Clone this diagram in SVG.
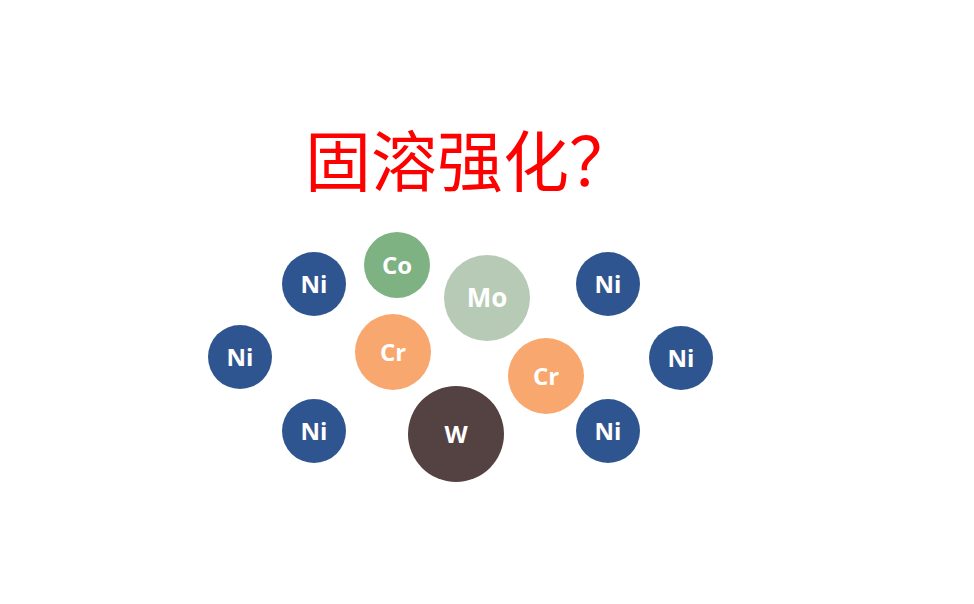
<svg xmlns="http://www.w3.org/2000/svg" width="974" height="604" viewBox="0 0 974 604">
<style>
.lbl{font-family:"Open Sans","Noto Sans","Liberation Sans",sans-serif;font-weight:bold;fill:#fff;text-anchor:middle;dominant-baseline:central;font-size:24px}
.ni{fill:#2F5590}
.cr{fill:#F8A86F}
</style>
<rect width="974" height="604" fill="#fff"/>
<text x="470" y="186" font-family="'Noto Sans CJK SC','Noto Sans',sans-serif" font-size="66" fill="#FF0000" text-anchor="middle">固溶强化？</text>
<g id="ni1"><circle class="ni" cx="314" cy="284" r="32"/><text class="lbl" x="314" y="283">Ni</text></g>
<g id="ni2"><circle class="ni" cx="240" cy="357" r="32"/><text class="lbl" x="240" y="356">Ni</text></g>
<g id="ni3"><circle class="ni" cx="314" cy="431" r="32"/><text class="lbl" x="314" y="430">Ni</text></g>
<g id="ni4"><circle class="ni" cx="608" cy="284" r="32"/><text class="lbl" x="608" y="283">Ni</text></g>
<g id="ni5"><circle class="ni" cx="681" cy="358" r="32"/><text class="lbl" x="681" y="357">Ni</text></g>
<g id="ni6"><circle class="ni" cx="608" cy="431" r="32"/><text class="lbl" x="608" y="430">Ni</text></g>
<g id="co"><circle fill="#7EB283" cx="397" cy="265" r="33"/><text class="lbl" x="397" y="264">Co</text></g>
<g id="mo"><circle fill="#B7CAB6" cx="487" cy="298" r="43"/><text class="lbl" x="487" y="297" style="font-size:26px">Mo</text></g>
<g id="cr1"><circle class="cr" cx="393" cy="352" r="38"/><text class="lbl" x="393" y="351">Cr</text></g>
<g id="cr2"><circle class="cr" cx="546" cy="376" r="38"/><text class="lbl" x="546" y="375">Cr</text></g>
<g id="w"><circle fill="#534241" cx="456" cy="434" r="48"/><text class="lbl" x="456" y="433">W</text></g>
</svg>
